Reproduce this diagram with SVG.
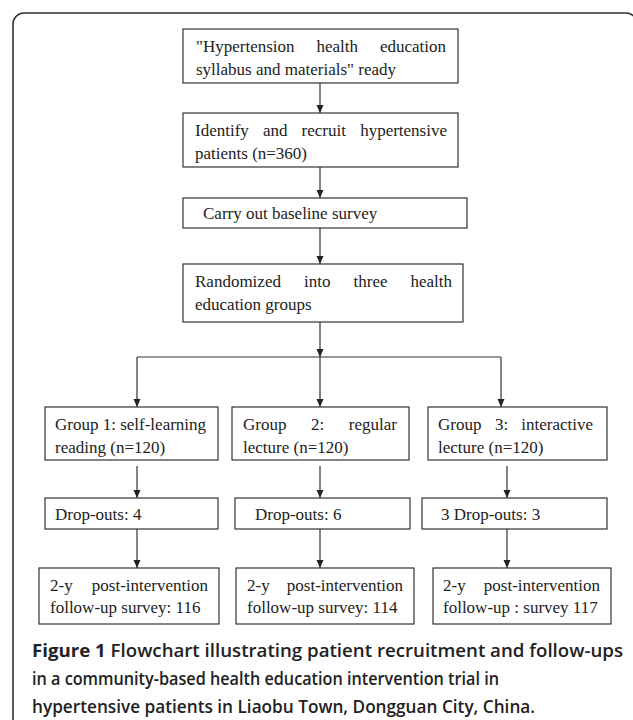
<svg xmlns="http://www.w3.org/2000/svg" width="633" height="720" viewBox="0 0 633 720">
<style>
.box{fill:#fff;stroke:#333;stroke-width:1.2}
.t{font-family:"Liberation Serif","Times New Roman",serif;font-size:17px;fill:#222}
.c{stroke:#333;stroke-width:1.2;fill:none}
.cap{font-family:"Open Sans","Noto Sans",sans-serif;font-size:17.5px;fill:#222;font-weight:600}
</style>
<defs>
<marker id="ah" markerUnits="userSpaceOnUse" markerWidth="8" markerHeight="8" refX="8" refY="4" orient="auto">
<path d="M0,0.5 L8,4 L0,7.5 z" fill="#222"/>
</marker>
</defs>
<rect x="13" y="13" width="624" height="740" rx="11" fill="#fff" stroke="#333" stroke-width="1.6"/>

<g id="connectors">
<line class="c" x1="320" y1="83" x2="320" y2="113" marker-end="url(#ah)"/>
<line class="c" x1="320" y1="167" x2="320" y2="198" marker-end="url(#ah)"/>
<line class="c" x1="320" y1="228" x2="320" y2="264" marker-end="url(#ah)"/>
<line class="c" x1="320" y1="322" x2="320" y2="357" marker-end="url(#ah)"/>
<line class="c" x1="137" y1="357" x2="501" y2="357"/>
<line class="c" x1="137" y1="357" x2="137" y2="407" marker-end="url(#ah)"/>
<line class="c" x1="320" y1="357" x2="320" y2="407" marker-end="url(#ah)"/>
<line class="c" x1="501" y1="357" x2="501" y2="407" marker-end="url(#ah)"/>
<line class="c" x1="137" y1="466" x2="137" y2="498" marker-end="url(#ah)"/>
<line class="c" x1="320" y1="466" x2="320" y2="498" marker-end="url(#ah)"/>
<line class="c" x1="507" y1="466" x2="507" y2="498" marker-end="url(#ah)"/>
<line class="c" x1="137" y1="529" x2="137" y2="568" marker-end="url(#ah)"/>
<line class="c" x1="320" y1="529" x2="320" y2="568" marker-end="url(#ah)"/>
<line class="c" x1="507" y1="529" x2="507" y2="568" marker-end="url(#ah)"/>
</g>

<g id="n1">
<rect class="box" x="183" y="29" width="275" height="54"/>
<text class="t" x="196" y="52">"Hypertension</text>
<text class="t" x="316.5" y="52">health</text>
<text class="t" x="446" y="52" text-anchor="end">education</text>
<text class="t" x="196" y="75">syllabus and materials" ready</text>
</g>

<g id="n2">
<rect class="box" x="183" y="113" width="275" height="54"/>
<text class="t" x="195" y="136">Identify</text>
<text class="t" x="263" y="136">and</text>
<text class="t" x="301.5" y="136">recruit</text>
<text class="t" x="447" y="136" text-anchor="end">hypertensive</text>
<text class="t" x="195" y="159">patients (n=360)</text>
</g>

<g id="n3">
<rect class="box" x="183" y="198" width="284" height="30"/>
<text class="t" x="203" y="219">Carry out baseline survey</text>
</g>

<g id="n4">
<rect class="box" x="183" y="264" width="280" height="58"/>
<text class="t" x="195" y="287">Randomized</text>
<text class="t" x="304" y="287">into</text>
<text class="t" x="353.5" y="287">three</text>
<text class="t" x="452" y="287" text-anchor="end">health</text>
<text class="t" x="195" y="310">education groups</text>
</g>

<g id="g1">
<rect class="box" x="45" y="407" width="173" height="53"/>
<text class="t" x="55" y="430">Group 1: self-learning</text>
<text class="t" x="55" y="453">reading (n=120)</text>
</g>
<g id="g2">
<rect class="box" x="232" y="407" width="177" height="53"/>
<text class="t" x="243" y="430">Group</text>
<text class="t" x="311" y="430">2:</text>
<text class="t" x="397" y="430" text-anchor="end">regular</text>
<text class="t" x="243" y="453">lecture (n=120)</text>
</g>
<g id="g3">
<rect class="box" x="428" y="407" width="179" height="53"/>
<text class="t" x="438" y="430">Group</text>
<text class="t" x="495" y="430">3:</text>
<text class="t" x="593" y="430" text-anchor="end">interactive</text>
<text class="t" x="438" y="453">lecture (n=120)</text>
</g>

<g id="d1">
<rect class="box" x="45" y="498" width="173" height="31"/>
<text class="t" x="55" y="520">Drop-outs: 4</text>
</g>
<g id="d2">
<rect class="box" x="235" y="498" width="175" height="31"/>
<text class="t" x="255" y="520">Drop-outs: 6</text>
</g>
<g id="d3">
<rect class="box" x="422" y="498" width="185" height="31"/>
<text class="t" x="441" y="520">3 Drop-outs: 3</text>
</g>

<g id="f1">
<rect class="box" x="39" y="568" width="180" height="56"/>
<text class="t" x="50" y="591">2-y</text>
<text class="t" x="208" y="591" text-anchor="end">post-intervention</text>
<text class="t" x="50" y="613">follow-up survey: 116</text>
</g>
<g id="f2">
<rect class="box" x="236" y="568" width="178" height="56"/>
<text class="t" x="247" y="591">2-y</text>
<text class="t" x="403" y="591" text-anchor="end">post-intervention</text>
<text class="t" x="247" y="613">follow-up survey: 114</text>
</g>
<g id="f3">
<rect class="box" x="433" y="568" width="178" height="56"/>
<text class="t" x="443" y="591">2-y</text>
<text class="t" x="600" y="591" text-anchor="end">post-intervention</text>
<text class="t" x="443" y="613">follow-up : survey 117</text>
</g>

<g id="caption">
<text class="cap" x="32" y="657" textLength="591" lengthAdjust="spacingAndGlyphs"><tspan font-weight="700">Figure 1</tspan> Flowchart illustrating patient recruitment and follow-ups</text>
<text class="cap" x="32" y="685" textLength="467" lengthAdjust="spacingAndGlyphs">in a community-based health education intervention trial in</text>
<text class="cap" x="32" y="713" textLength="503" lengthAdjust="spacingAndGlyphs">hypertensive patients in Liaobu Town, Dongguan City, China.</text>
</g>
</svg>
